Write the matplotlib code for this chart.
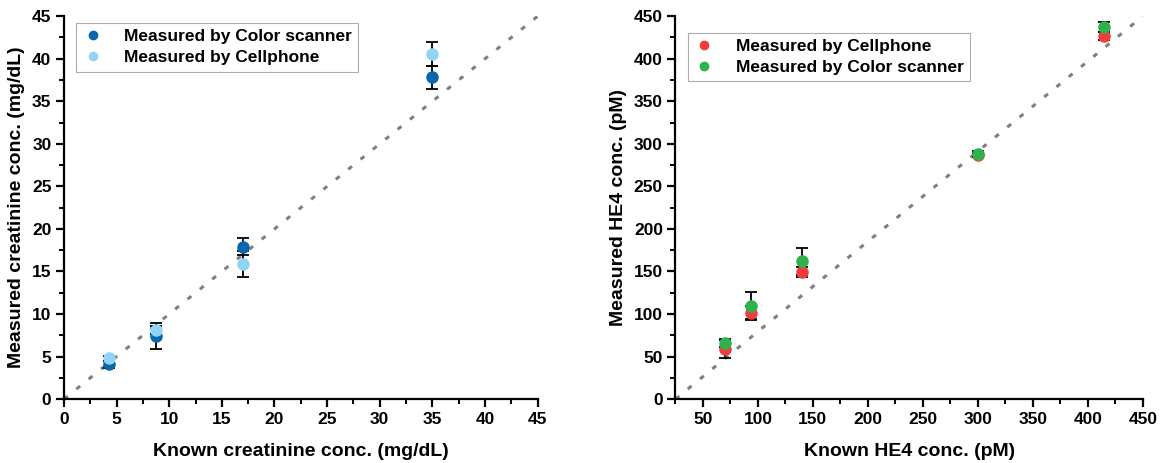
import matplotlib.pyplot as plt
from matplotlib.ticker import MultipleLocator

plt.rcParams['font.family'] = ['Liberation Sans', 'DejaVu Sans']
plt.rcParams['font.weight'] = 'bold'

# creatinine (left panel)
cr_known = [4.3, 8.7, 17.0, 35.0]
cr_scanner = [4.1, 7.4, 17.9, 37.8]
cr_scanner_err = [0.4, 1.5, 1.0, 1.4]
cr_phone = [4.8, 8.1, 15.9, 40.6]
cr_phone_err = [0.3, 0.5, 1.5, 1.4]

# HE4 (right panel)
he4_known = [70, 94, 140, 300, 415]
he4_phone = [59, 101, 149, 287, 427]
he4_phone_err = [11, 8, 6, 2, 5]
he4_scanner = [66, 110, 162, 288, 437]
he4_scanner_err = [5, 16, 16, 3, 6]

fig = plt.figure(figsize=(11.61, 4.63), dpi=100)
ax1 = fig.add_axes([0.0551, 0.138, 0.408, 0.827])
ax2 = fig.add_axes([0.5818, 0.138, 0.4025, 0.827])

def style(ax):
    for s in ['top', 'right']:
        ax.spines[s].set_visible(False)
    for s in ['left', 'bottom']:
        ax.spines[s].set_linewidth(1.6)
    ax.tick_params(which='major', direction='out', length=6, width=1.6, labelsize=12.5, pad=3)
    ax.tick_params(which='minor', direction='out', length=3.5, width=1.4)
    for lb in ax.get_xticklabels() + ax.get_yticklabels():
        lb.set_fontweight('bold')
    # identity guide line, corner to corner
    ax.plot([0, 1], [0, 1], transform=ax.transAxes, color='#808080', lw=2.2,
            linestyle=(0, (1.6, 3.6)), zorder=1)

ekw = dict(fmt='o', ms=8, ecolor='black', elinewidth=1.3, capsize=4, capthick=1.3, zorder=3)

ax1.errorbar(cr_known, cr_scanner, yerr=cr_scanner_err, color='#0a67ad',
             label='Measured by Color scanner', **ekw)
ax1.errorbar(cr_known, cr_phone, yerr=cr_phone_err, color='#90d5f7',
             label='Measured by Cellphone', **ekw)
ax1.set_xlim(0, 45)
ax1.set_ylim(0, 45)
ax1.xaxis.set_major_locator(MultipleLocator(5))
ax1.xaxis.set_minor_locator(MultipleLocator(2.5))
ax1.yaxis.set_major_locator(MultipleLocator(5))
ax1.yaxis.set_minor_locator(MultipleLocator(2.5))
ax1.set_xlabel('Known creatinine conc. (mg/dL)', fontsize=14, fontweight='bold', labelpad=12)
ax1.set_ylabel('Measured creatinine conc. (mg/dL)', fontsize=14, fontweight='bold', labelpad=5)
style(ax1)

ax2.errorbar(he4_known, he4_phone, yerr=he4_phone_err, color='#f03d3d',
             label='Measured by Cellphone', **ekw)
ax2.errorbar(he4_known, he4_scanner, yerr=he4_scanner_err, color='#2db24c',
             label='Measured by Color scanner', **ekw)
ax2.set_xlim(25, 450)
ax2.set_ylim(0, 450)
ax2.xaxis.set_major_locator(MultipleLocator(50))
ax2.xaxis.set_minor_locator(MultipleLocator(25))
ax2.yaxis.set_major_locator(MultipleLocator(50))
ax2.yaxis.set_minor_locator(MultipleLocator(25))
ax2.set_xticks(range(50, 451, 50))
ax2.set_xlabel('Known HE4 conc. (pM)', fontsize=14, fontweight='bold', labelpad=12)
ax2.set_ylabel('Measured HE4 conc. (pM)', fontsize=14, fontweight='bold', labelpad=5)
style(ax2)

for ax, loc in [(ax1, (0.008, 1.005)), (ax2, (0.008, 0.98))]:
    h, l = ax.get_legend_handles_labels()
    h = [x[0] for x in h]
    leg = ax.legend(h, l, loc='upper left', bbox_to_anchor=loc, fontsize=12.5,
                    markerscale=0.75, frameon=True, fancybox=False, edgecolor='#999999',
                    handlelength=1.2, handletextpad=1.2, borderpad=0.35, labelspacing=0.35)
    leg.get_frame().set_linewidth(0.8)
    for t in leg.get_texts():
        t.set_fontweight('bold')

plt.savefig('out.png', dpi=100)
